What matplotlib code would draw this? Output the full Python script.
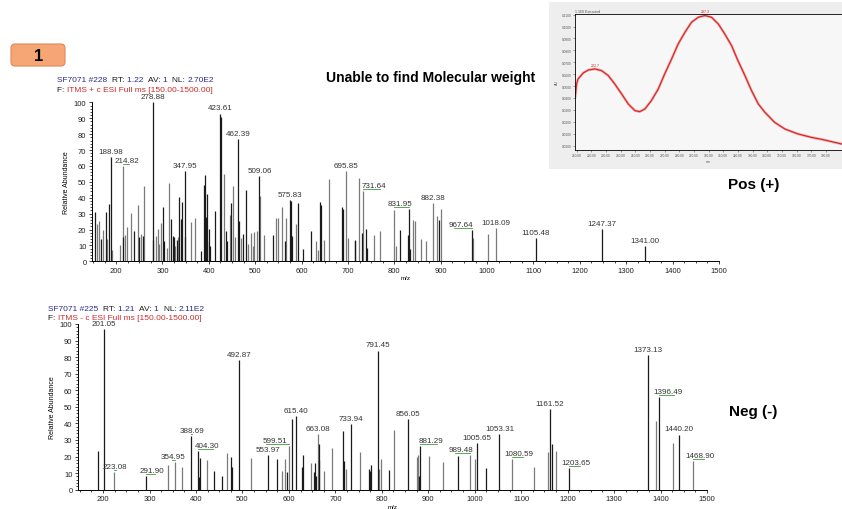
import numpy as np
import matplotlib.pyplot as plt
from matplotlib.patches import FancyBboxPatch, Rectangle
from matplotlib.ticker import MultipleLocator, FixedLocator

plt.rcParams['font.family'] = ['Liberation Sans', 'DejaVu Sans']

W, H = 842, 510

# ---- positive mode spectrum (m/z, relative abundance) ----
pos_black_mz = [155.3, 167, 179, 185, 188.98, 214, 239.6, 249.6, 258, 278.88, 280.6,
                302, 303.7, 318, 322.4, 325, 331.7, 336, 339, 342, 347.95, 349.3,
                382, 388.6, 390.8, 393, 395, 397, 401, 403, 413, 423.61, 425.6, 437,
                440, 447.7, 462.39, 464.2, 474, 479.3, 509.06, 537.7, 563.6, 575.83,
                577.5, 578.7, 591.7, 602.5, 620.5, 640.6, 642.8, 687.4, 689.6, 714.8,
                716, 729.9, 738.5, 740.7, 812, 829.2, 831.95, 832.8, 896.2, 967.64,
                1105.48, 1247.37, 1341.00]
pos_black_int = [30.8, 14, 30.8, 36, 65.9, 15.5, 19.3, 15, 16, 100, 13.4,
                 34.4, 13, 26.6, 16.1, 15, 13.4, 40.7, 26.6, 37.1, 57, 15,
                 6.3, 48.2, 54.5, 27.7, 42.4, 13, 20.3, 9.8, 31.5, 93, 90.6, 19.3,
                 13, 36.5, 77, 25.6, 17.2, 44.9, 53.9, 16.8, 13, 38.6,
                 38.2, 16, 36.5, 7.7, 18.9, 37.1, 35.6, 34.4, 32.9, 13.4,
                 13, 17.6, 20.3, 8.4, 19.7, 16.8, 33, 7.7, 26, 19.7,
                 14.7, 20.3, 9.4]
pos_gray_mz = [159, 163, 171, 181, 192, 208, 214.82, 219, 224.5, 231.7, 248, 253, 260.5,
               287, 289.3, 292, 296.5, 309.4, 314.5, 328, 334, 361.3, 370, 433.3, 445,
               452, 457, 469, 485, 491, 494.5, 498, 503, 511, 519.7, 544, 550, 558.5,
               566.5, 587.3, 631.3, 636.3, 649, 660, 695.85, 701, 724.8, 731.64, 756.5,
               768, 798.3, 804, 840, 843.6, 856.6, 867.4, 882.38, 892.6, 899.8, 970.4,
               1001, 1018.09]
pos_gray_int = [23.5, 25.2, 19.7, 14, 7.1, 10.5, 60.2, 16.8, 21.4, 30.2, 35.4, 17, 47.6,
                16, 20.3, 10.9, 23.9, 8.4, 49, 9.8, 15, 24.5, 27.3, 55, 29.4,
                47.6, 15, 14.7, 10.9, 17.6, 9.8, 18.2, 19.3, 41.3, 16.8, 27.3, 27.3, 34.4,
                27.3, 23.5, 13, 7.1, 13.4, 51.8, 56.6, 14.7, 52.4, 44, 16.6,
                19.3, 32.3, 9.8, 26, 25.6, 14, 13, 36.5, 28.7, 32.9, 14.7,
                17.2, 21]
pos_label_mz = [188.98, 214.82, 278.88, 347.95, 423.61, 462.39, 509.06, 575.83, 695.85,
                731.64, 831.95, 882.38, 967.64, 1018.09, 1105.48, 1247.37, 1341.00]
pos_label_dx = [0, 8, 0, 0, 0, 0, 0, 0, 0, 24, -20, 0, -24, 0, 0, 0, 0]

# ---- negative mode spectrum ----
neg_black_mz = [189.3, 201.05, 291.90, 388.69, 404.30, 406, 408.6, 438.6, 457, 476.4,
                477.9, 492.87, 553.97, 575, 595.7, 606.4, 615.40, 627.9, 630, 653.6,
                656.4, 658.6, 664.3, 665.5, 717, 718.6, 733.94, 772.9, 774.3, 776.4,
                791.45, 815.7, 856.05, 879.5, 881.29, 964.7, 1005.65, 1024.3, 1053.31,
                1161.52, 1166.6, 1203.65, 1373.13, 1396.49, 1440.20]
neg_black_int = [23.6, 97, 8.4, 32.4, 23.6, 7.8, 19, 11.4, 8.4, 19.8,
                 13.5, 78, 21, 18.3, 10.5, 42.5, 44.6, 13.5, 21, 10.5,
                 16.2, 8.4, 18, 27.8, 35.2, 17.3, 39.4, 12.6, 11.4, 15.2,
                 84, 12, 42.5, 8.4, 26.1, 20.1, 28.2, 13.1, 33.6,
                 48.7, 27.3, 13.1, 81, 56, 33.3]
neg_gray_mz = [223.08, 340.7, 354.95, 370.7, 422.9, 465.7, 519.3, 585.7, 591.4, 599.51,
               647.9, 663.08, 676.4, 692.9, 722.9, 752.9, 792.9, 797.9, 826.4, 876.6,
               878.6, 901.4, 931.6, 989.48, 1000.6, 1080.59, 1128, 1158, 1174.6, 1390,
               1426, 1468.90]
neg_gray_int = [10.5, 15.2, 16.8, 14, 17.9, 22, 18.9, 11, 18.3, 26.1,
                16.2, 33.7, 11.4, 25.3, 12.6, 22.5, 12.6, 18.3, 36.2, 19.8,
                21, 20.4, 16.5, 20.9, 18.4, 18.4, 13.9, 22.9, 23.6, 41.6,
                28.2, 17.4]
neg_label_mz = [201.05, 223.08, 291.90, 354.95, 388.69, 404.30, 492.87, 553.97, 599.51,
                615.40, 663.08, 733.94, 791.45, 856.05, 881.29, 989.48, 1005.65, 1053.31,
                1080.59, 1161.52, 1203.65, 1373.13, 1396.49, 1440.20, 1468.90]
neg_label_dx = [0, 3, 13, -4, 2, 20, 0, 0, -30, 0, 0, 0, 0, 0, 24, -20, 0, 0,
                15, 0, 14, 0, 20, 0, 15]

# ---- UV trace in the inset ----
uv_nm = [209, 210, 211, 214.5, 218, 222.5, 227, 231.6, 236, 240.7, 245.2, 249.8, 253,
         256.6, 261, 265.7, 270, 274.8, 279.3, 283.9, 288.4, 293, 297.5, 302, 306.6,
         311, 315.7, 320, 324.8, 329.3, 333.9, 338.4, 345, 352, 361, 370, 379, 390.7]
uv_abs = [0.040, 0.052, 0.056, 0.061, 0.0635, 0.0644, 0.063, 0.0588, 0.0518, 0.0434,
          0.035, 0.0294, 0.0285, 0.0308, 0.0378, 0.0476, 0.060, 0.0728, 0.0854, 0.0952,
          0.1036, 0.1078, 0.1092, 0.1078, 0.1022, 0.0938, 0.084, 0.0714, 0.0588, 0.0462,
          0.035, 0.028, 0.0196, 0.014, 0.0098, 0.007, 0.0048, 0.0014]
uv_peaks = [222.5, 297.5]
uv_peak_txt = ["222.7", "297.3"]

BLACK = '#1a1a1a'
GRAY = '#7a7a7a'
BLUE = '#2b2b8f'
RED = '#cc2b2b'

fig = plt.figure(figsize=(W / 100, H / 100), dpi=100)

# full-figure layer in pixel units for the loose annotations
bg = fig.add_axes([0, 0, 1, 1])
bg.set_xlim(0, W)
bg.set_ylim(H, 0)
bg.axis('off')


def rect(l, t, r, b):
    return [l / W, 1 - b / H, (r - l) / W, (b - t) / H]


def header(x, y, parts):
    t = bg.text(x, y, parts[0][0], color=parts[0][1], fontsize=6, ha='left', va='bottom')
    for s, c in parts[1:]:
        t = bg.annotate(s, xy=(1, 0), xycoords=t, color=c, fontsize=6,
                        ha='left', va='bottom')


def spectrum(ax, bmz, bint, gmz, gint, lab_mz, lab_dx, xlim):
    ax.patch.set_alpha(0)
    ax.vlines(gmz, 0, gint, color=GRAY, lw=0.9)
    ax.vlines(bmz, 0, bint, color=BLACK, lw=0.9)
    height = dict(zip(gmz, gint))
    height.update(dict(zip(bmz, bint)))
    for mz, dx in zip(lab_mz, lab_dx):
        h = height[mz]
        ax.annotate(f"{mz:.2f}", xy=(mz + dx, h), xytext=(0, 1.5),
                    textcoords='offset points', ha='center', va='bottom',
                    fontsize=5.8, color='#333333', annotation_clip=False)
        if dx != 0:
            ax.plot([mz, mz + 1.6 * dx], [h + 1.2, h + 1.2], color='#3c9c3c',
                    lw=0.6, clip_on=False)
    ax.set_xlim(*xlim)
    ax.set_ylim(0, 100)
    for s in ['top', 'right']:
        ax.spines[s].set_visible(False)
    for s in ['left', 'bottom']:
        ax.spines[s].set_linewidth(0.7)
    ax.xaxis.set_major_locator(FixedLocator(np.arange(200, 1501, 100)))
    ax.xaxis.set_minor_locator(MultipleLocator(25))
    ax.yaxis.set_major_locator(MultipleLocator(10))
    ax.yaxis.set_minor_locator(MultipleLocator(2))
    ax.tick_params(which='major', length=2.5, width=0.6, labelsize=5.5, pad=1.5,
                   colors='#222222')
    ax.tick_params(which='minor', length=1.3, width=0.5)
    ax.set_ylabel("Relative Abundance", fontsize=5, labelpad=3)
    ax.set_xlabel("m/z", fontsize=4.5, labelpad=1)


# top spectrum
ax1 = fig.add_axes(rect(92, 103.4, 719, 262.3))
spectrum(ax1, pos_black_mz, pos_black_int, pos_gray_mz, pos_gray_int,
         pos_label_mz, pos_label_dx, (148, 1500))

# bottom spectrum
ax2 = fig.add_axes(rect(78, 325, 707, 490.7))
spectrum(ax2, neg_black_mz, neg_black_int, neg_gray_mz, neg_gray_int,
         neg_label_mz, neg_label_dx, (146, 1500))

header(57, 84, [("SF7071 #228  ", BLUE), ("RT: ", BLACK), ("1.22  ", BLUE),
                ("AV: ", BLACK), ("1  ", BLUE), ("NL: ", BLACK), ("2.70E2", BLUE)])
header(57, 94, [("F: ", BLACK), ("ITMS + c ESI Full ms [150.00-1500.00]", RED)])
header(48, 313.5, [("SF7071 #225  ", BLUE), ("RT: ", BLACK), ("1.21  ", BLUE),
                   ("AV: ", BLACK), ("1  ", BLUE), ("NL: ", BLACK), ("2.11E2", BLUE)])
header(48, 322.5, [("F: ", BLACK), ("ITMS - c ESI Full ms [150.00-1500.00]", RED)])

# numbered tag
bg.add_patch(FancyBboxPatch((11, 45), 54, 22, boxstyle="round,pad=0,rounding_size=4",
                            fc='#f6a675', ec='#e0895a', lw=0.8))
bg.text(38.5, 56.5, "1", fontsize=12, fontweight='bold', ha='center', va='center')

bg.text(431, 78, "Unable to find Molecular weight", fontsize=10, fontweight='bold',
        ha='center', va='center')
bg.text(754, 185, "Pos (+)", fontsize=11, fontweight='bold', ha='center', va='center')
bg.text(753, 412, "Neg (-)", fontsize=11, fontweight='bold', ha='center', va='center')

# UV inset
bg.add_patch(Rectangle((549, 3), W - 549, 167, fc='#eeeeee', ec='none'))
ax3 = fig.add_axes(rect(575, 15, 842, 150.7))
ax3.set_facecolor('#f7f7f7')
ax3.plot(uv_nm, uv_abs, color='#f2a3a3', lw=1.8, solid_capstyle='round')
ax3.plot(uv_nm, uv_abs, color='#d42424', lw=0.8)
for nm, txt in zip(uv_peaks, uv_peak_txt):
    ax3.annotate(txt, xy=(nm, np.interp(nm, uv_nm, uv_abs)), xytext=(0, 1.5),
                 textcoords='offset points', ha='center', va='bottom',
                 fontsize=2.6, color='#d42424')
ax3.set_xlim(208.9, 391)
ax3.set_ylim(-0.0034, 0.1105)
ax3.spines['right'].set_visible(False)
for s in ['left', 'bottom', 'top']:
    ax3.spines[s].set_linewidth(0.6)
ax3.xaxis.set_major_locator(FixedLocator(np.arange(210, 385, 10)))
ax3.yaxis.set_major_locator(MultipleLocator(0.01))
ax3.xaxis.set_major_formatter(lambda v, p: f"{v:.2f}")
ax3.yaxis.set_major_formatter(lambda v, p: f"{v:.4f}")
ax3.tick_params(length=1.2, width=0.4, labelsize=2.3, pad=1, colors='#555555')
ax3.set_xlabel("nm", fontsize=2.5, labelpad=1.5, color='#555555')
ax3.set_ylabel("AU", fontsize=2.5, labelpad=2, color='#555555')
ax3.set_title("1.160 Extracted", fontsize=2.6, loc='left', pad=1.5, color='#555555')

fig.savefig("out.png", dpi=100)
